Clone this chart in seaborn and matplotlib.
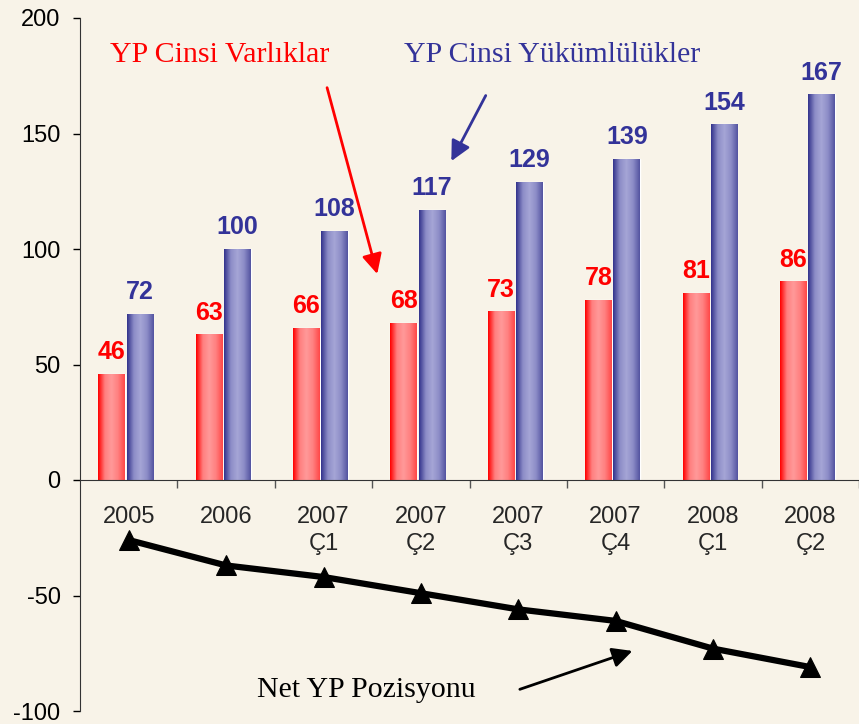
import numpy as np
import pandas as pd
import seaborn as sns
import matplotlib.pyplot as plt
import matplotlib.transforms as mtransforms
from matplotlib.colors import LinearSegmentedColormap

# data
periods = ["2005", "2006", "2007\nÇ1", "2007\nÇ2", "2007\nÇ3", "2007\nÇ4", "2008\nÇ1", "2008\nÇ2"]
assets = [46, 63, 66, 68, 73, 78, 81, 86]          # YP Cinsi Varlıklar
liabilities = [72, 100, 108, 117, 129, 139, 154, 167]  # YP Cinsi Yükümlülükler
net_position = [-26, -37, -42, -49, -56, -61, -73, -81]  # Net YP Pozisyonu

bg = "#F8F3E8"
red = "#FF0000"
blue = "#333399"

df = pd.DataFrame({
    "period": periods * 2,
    "series": ["Varlık"] * len(periods) + ["Yükümlülük"] * len(periods),
    "value": assets + liabilities,
})

sns.set_style("ticks")
plt.rcParams["font.family"] = ["Liberation Sans", "DejaVu Sans"]
plt.rcParams["axes.unicode_minus"] = False

fig = plt.figure(figsize=(8.59, 7.24), dpi=100, facecolor=bg)
ax = fig.add_axes([80 / 859, 13 / 724, 779 / 859, 693 / 724])
ax.set_facecolor(bg)

sns.barplot(data=df, x="period", y="value", hue="series", palette=[red, blue],
            width=0.58, gap=0.06, legend=False, ax=ax, zorder=2)

# gradient fill on each bar, like the original 3d-ish look
red_cmap = LinearSegmentedColormap.from_list("r", [(1, 0, 0), (1, 0.5, 0.5), (1, 0.6, 0.6), (1, 0.5, 0.5), (1, 0.28, 0.28)])
blue_cmap = LinearSegmentedColormap.from_list("b", [(0.2, 0.2, 0.55), (0.55, 0.55, 0.78), (0.65, 0.65, 0.84), (0.55, 0.55, 0.78), (0.33, 0.33, 0.63)])
grad = np.linspace(0, 1, 64).reshape(1, -1)
for cont, cmap, vals, col in zip(ax.containers, [red_cmap, blue_cmap], [assets, liabilities], [red, blue]):
    for patch in cont.patches:
        x0, y0 = patch.get_xy()
        w, h = patch.get_width(), patch.get_height()
        im = ax.imshow(grad, extent=[x0, x0 + w, y0, y0 + h], aspect="auto",
                       cmap=cmap, zorder=2.1, interpolation="bilinear")
        im.set_clip_path(patch)
    ax.bar_label(cont, labels=[str(v) for v in vals], padding=7, color=col,
                 fontsize=18, fontweight="bold", zorder=4)

# in the original the category axis sits ~3px right of the bar groups
shift = mtransforms.ScaledTranslation(3 / 100, 0, fig.dpi_scale_trans)

sns.lineplot(x=np.arange(len(periods)), y=net_position, ax=ax, color="black",
             linewidth=4.5, marker="^", markersize=15, markeredgecolor="black", zorder=5)
ax.lines[-1].set_transform(ax.transData + shift)

ax.set_xlim(-0.47, 7.43)
ax.set_ylim(-100, 200)
ax.set_yticks(range(-100, 201, 50))
ax.set_xlabel("")
ax.set_ylabel("")

# axes styling
for s in ["top", "right"]:
    ax.spines[s].set_visible(False)
ax.spines["bottom"].set_position(("data", 0))
ax.spines["bottom"].set_color("#333333")
ax.spines["left"].set_color("#333333")
ax.tick_params(axis="y", labelsize=17, length=5, width=1, pad=9, colors="black")
ax.tick_params(axis="x", which="major", length=0, labelsize=17, pad=19)
ax.set_xticks(np.arange(len(periods)), periods)
ax.set_xticks(np.arange(len(periods)) + 0.53, minor=True)
ax.tick_params(axis="x", which="minor", length=6, width=1, direction="out", color="#555555")
for lbl in ax.get_xticklabels():
    lbl.set_linespacing(1.3)
    lbl.set_verticalalignment("top")
    lbl.set_transform(lbl.get_transform() + shift)

# annotations
serif = ["Liberation Serif", "DejaVu Serif"]
ax.text(-0.167, 184, "YP Cinsi Varlıklar", color=red, fontsize=21.5, family=serif, va="center")
ax.text(2.855, 184, "YP Cinsi Yükümlülükler", color=blue, fontsize=21.5, family=serif, va="center")
ax.text(1.344, -91, "Net YP Pozisyonu", color="black", fontsize=21.5, family=serif, va="center")
ax.annotate("", xy=(2.59, 88), xytext=(2.06, 171),
            arrowprops=dict(arrowstyle="-|>", color=red, lw=2, mutation_scale=30), zorder=6)
ax.annotate("", xy=(3.33, 137), xytext=(3.71, 167.5),
            arrowprops=dict(arrowstyle="-|>", color=blue, lw=2, mutation_scale=30), zorder=6)
ax.annotate("", xy=(5.23, -73.6), xytext=(4.02, -91),
            arrowprops=dict(arrowstyle="-|>", color="black", lw=2, mutation_scale=30), zorder=6)

fig.savefig("out.png", dpi=100, facecolor=bg)
